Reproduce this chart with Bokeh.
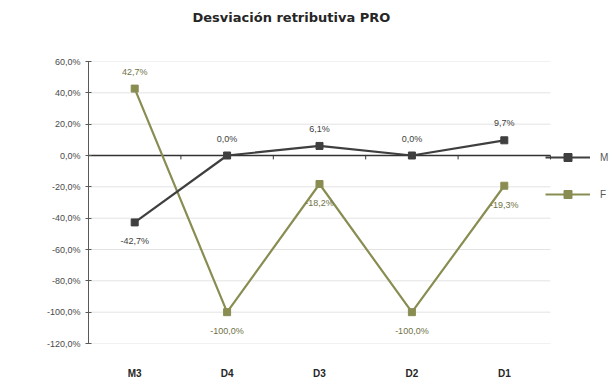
from bokeh.plotting import figure
from bokeh.models import (ColumnDataSource, Range1d, Legend, LegendItem,
                          CustomJSTickFormatter, FixedTicker, LabelSet)
from bokeh.core.properties import value
from bokeh.embed import file_html
from bokeh.resources import INLINE

categories = ["M3", "D4", "D3", "D2", "D1"]
m_values = [-42.7, 0.0, 6.1, 0.0, 9.7]
f_values = [42.7, -100.0, -18.2, -100.0, -19.3]
y_ticks = [-120, -100, -80, -60, -40, -20, 0, 20, 40, 60]

M_COLOR = "#3f3f3f"
F_COLOR = "#8a8d52"
FONT = "Liberation Sans"

def fmt(v):
    return ("%.1f" % v).replace(".", ",") + "%"

n = len(categories)
xc = [i + 0.5 for i in range(n)]          # category centres on the axis scale
bounds = [float(i) for i in range(n + 1)]  # category boundaries

FRAME_W = 528
CAT_W = 92.4
p = figure(width=616, height=381, x_range=Range1d(0, FRAME_W / CAT_W),
           y_range=Range1d(y_ticks[0], y_ticks[-1]), output_backend="svg", toolbar_location=None,
           min_border_left=88, min_border_right=0, min_border_top=61, min_border_bottom=37)
p.outline_line_color = None
p.background_fill_color = "white"
p.border_fill_color = "white"

p.title.text = "Desviación retributiva PRO\n \n "
p.title.align = "left"
p.title.offset = 104
p.title.standoff = 14
p.title.text_font = "DejaVu Sans"
p.title.text_font_size = "13px"
p.title.text_font_style = "bold"
p.title.text_color = "#262626"

p.yaxis.ticker = FixedTicker(ticks=y_ticks)
p.yaxis.formatter = CustomJSTickFormatter(code="return tick.toFixed(1).replace('.', ',') + '%';")
p.yaxis.major_label_text_font = FONT
p.yaxis.major_label_text_font_size = "9px"
p.yaxis.major_label_text_color = "#4a4a4a"
p.yaxis.axis_line_color = "#595959"
p.yaxis.major_tick_line_color = "#595959"
p.yaxis.major_tick_in = 3
p.yaxis.major_tick_out = 3
p.yaxis.minor_tick_line_color = None
p.yaxis.major_label_standoff = 5

p.xaxis.ticker = FixedTicker(ticks=xc)
p.xaxis.major_label_overrides = {x: c for x, c in zip(xc, categories)}
p.xaxis.axis_line_color = None
p.xaxis.major_tick_line_color = None
p.xaxis.minor_tick_line_color = None
p.xaxis.major_tick_in = 0
p.xaxis.major_tick_out = 0
p.xaxis.major_label_text_font = FONT
p.xaxis.major_label_text_font_size = "10px"
p.xaxis.major_label_text_font_style = "bold"
p.xaxis.major_label_text_color = "#262626"
p.xaxis.major_label_standoff = 24

p.xgrid.grid_line_color = None
p.ygrid.grid_line_color = None

# horizontal gridlines across the category area only
grid_y = [t for t in y_ticks if t != 0]
p.segment(x0=[bounds[0]] * len(grid_y), x1=[bounds[-1]] * len(grid_y), y0=grid_y, y1=grid_y,
          line_color="#e3e3e3", line_width=1)
# zero line (category axis crossing)
p.segment(x0=[bounds[0]], x1=[bounds[-1]], y0=[0], y1=[0], line_color="#333333", line_width=1.5)
# tick marks on the zero line at category boundaries
p.segment(x0=bounds, x1=bounds, y0=[0] * len(bounds), y1=[-2.5] * len(bounds),
          line_color="#333333", line_width=1)

src = ColumnDataSource(dict(
    x=xc, m=m_values, f=f_values,
    mlab=[fmt(v) for v in m_values], flab=[fmt(v) for v in f_values],
    moff=[-24 if v < 0 else 12 for v in m_values],
    foff=[12 if v > 0 else -24 for v in f_values],
))

rf = p.line("x", "f", source=src, line_color=F_COLOR, line_width=2.2)
sf = p.scatter("x", "f", source=src, marker="square", size=7, fill_color=F_COLOR, line_color=F_COLOR)
rm = p.line("x", "m", source=src, line_color=M_COLOR, line_width=2.2)
sm = p.scatter("x", "m", source=src, marker="square", size=7, fill_color=M_COLOR, line_color=M_COLOR)

lm = LabelSet(x="x", y="m", text="mlab", source=src, y_offset="moff", text_align="center",
              text_font=value(FONT), text_font_size=value("9px"), text_color="#404040")
lf = LabelSet(x="x", y="f", text="flab", source=src, y_offset="foff", text_align="center",
              text_font=value(FONT), text_font_size=value("9px"), text_color="#6f7245")
p.add_layout(lm)
p.add_layout(lf)

legend = Legend(items=[LegendItem(label="M", renderers=[rm, sm]),
                       LegendItem(label="F", renderers=[rf, sf])],
                location=(457, 139), orientation="vertical")
legend.background_fill_alpha = 0
legend.border_line_color = None
legend.label_text_font = FONT
legend.label_text_font_size = "10px"
legend.label_text_color = "#595959"
legend.glyph_width = 45
legend.glyph_height = 20
legend.spacing = 17
legend.padding = 0
legend.margin = 0
legend.label_standoff = 10
p.add_layout(legend)

open("out.html", "w").write(file_html(p, INLINE))
